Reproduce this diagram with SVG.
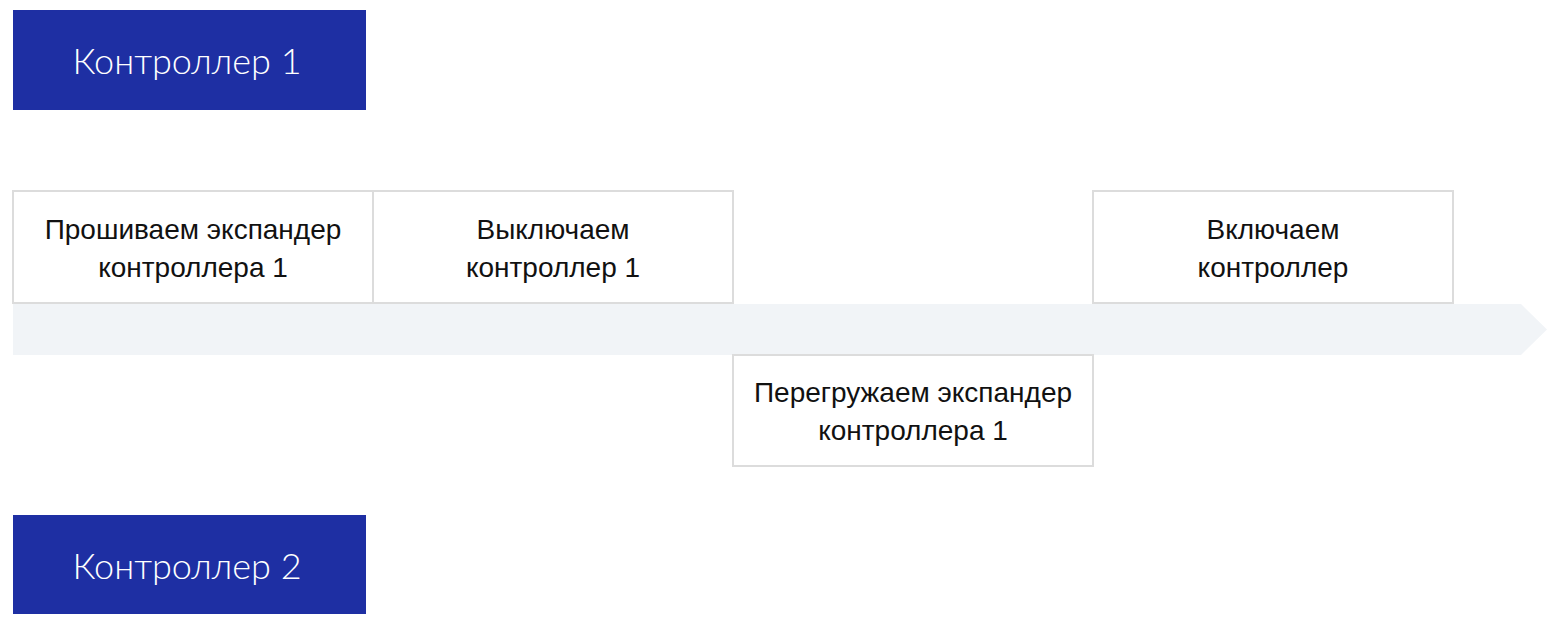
<svg xmlns="http://www.w3.org/2000/svg" width="1560" height="624" viewBox="0 0 1560 624">
<style>
.ctl{fill:#1e2fa3}
.ctlt{font-family:Lato,"Liberation Sans",Arial,sans-serif;font-size:36px;font-weight:300;fill:#ffffff;text-anchor:middle}
.box{fill:#ffffff;stroke:#dcdcdc;stroke-width:2}
.t{font-family:"Liberation Sans",Arial,sans-serif;font-size:28px;fill:#111111;text-anchor:middle}
</style>
<rect width="1560" height="624" fill="#ffffff"/>
<g id="connectors">
<path d="M13,304 L1521,304 L1547,329.5 L1521,355 L13,355 Z" fill="#f1f4f7"/>
</g>
<g id="controller1">
<rect class="ctl" x="13" y="10" width="353" height="100"/>
<text class="ctlt" x="187" y="74">Контроллер 1</text>
</g>
<g id="controller2">
<rect class="ctl" x="13" y="515" width="353" height="99"/>
<text class="ctlt" x="187" y="579">Контроллер 2</text>
</g>
<g id="step1">
<rect class="box" x="13" y="191" width="360" height="112"/>
<text class="t" x="193" y="239">Прошиваем экспандер</text>
<text class="t" x="193" y="277">контроллера 1</text>
</g>
<g id="step2">
<rect class="box" x="373" y="191" width="360" height="112"/>
<text class="t" x="553" y="239">Выключаем</text>
<text class="t" x="553" y="277">контроллер 1</text>
</g>
<g id="step3">
<rect class="box" x="733" y="355" width="360" height="111"/>
<text class="t" x="913" y="402">Перегружаем экспандер</text>
<text class="t" x="913" y="440">контроллера 1</text>
</g>
<g id="step4">
<rect class="box" x="1093" y="191" width="360" height="112"/>
<text class="t" x="1273" y="239">Включаем</text>
<text class="t" x="1273" y="277">контроллер</text>
</g>
</svg>
